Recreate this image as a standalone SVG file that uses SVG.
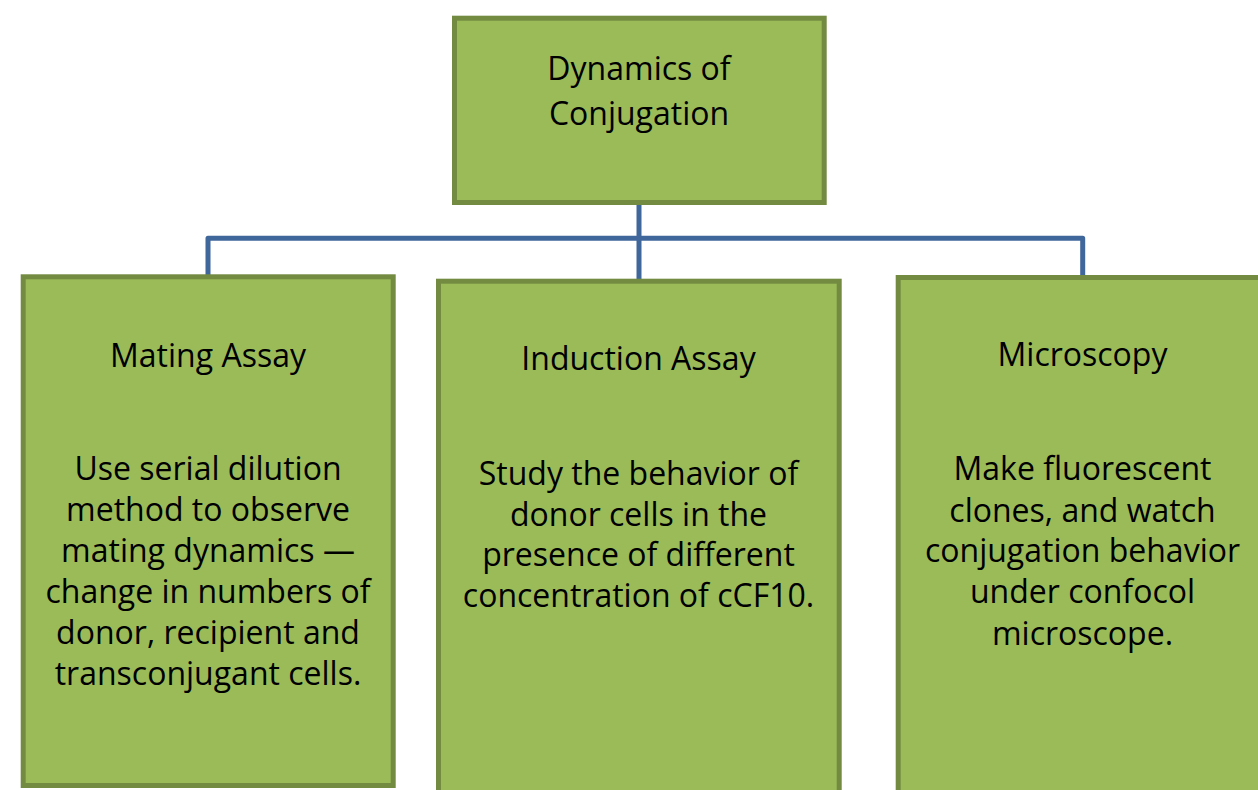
<svg xmlns="http://www.w3.org/2000/svg" width="1258" height="790" viewBox="0 0 1258 790">
  <style>
    .box { fill: #9BBB59; stroke: #738A41; stroke-width: 5; }
    .t { font-family: "Open Sans", "Noto Sans", "Liberation Sans", sans-serif; font-size: 32px; fill: #000; text-anchor: middle; }
    .conn { fill: none; stroke: #40679C; stroke-width: 5; stroke-linejoin: round; }
  </style>
  <rect width="1258" height="790" fill="#FFFFFF"/>
  <g id="connectors">
    <path class="conn" d="M208,275 V238.3 H1082.7 V276"/>
    <path class="conn" d="M639,204 V280"/>
  </g>
  <g id="node-root">
    <rect class="box" x="454.5" y="18.2" width="369.7" height="184.3"/>
    <text class="t" x="639" y="80">Dynamics of</text>
    <text class="t" x="639" y="125">Conjugation</text>
  </g>
  <g id="node-mating">
    <rect class="box" x="23.2" y="276.8" width="370" height="508.7"/>
    <text class="t" x="208" y="366.7">Mating Assay</text>
    <text class="t" x="208" y="480">Use serial dilution</text>
    <text class="t" x="208" y="521">method to observe</text>
    <text class="t" x="208" y="562">mating dynamics —</text>
    <text class="t" x="208" y="603">change in numbers of</text>
    <text class="t" x="208" y="644">donor, recipient and</text>
    <text class="t" x="208" y="685">transconjugant cells.</text>
  </g>
  <g id="node-induction">
    <rect class="box" x="438.5" y="281.2" width="400.7" height="520"/>
    <text class="t" x="638.5" y="370">Induction Assay</text>
    <text class="t" x="638.5" y="485">Study the behavior of</text>
    <text class="t" x="638.5" y="526">donor cells in the</text>
    <text class="t" x="638.5" y="566">presence of different</text>
    <text class="t" x="638.5" y="607">concentration of cCF10.</text>
  </g>
  <g id="node-microscopy">
    <rect class="box" x="898.2" y="277.5" width="400" height="520"/>
    <text class="t" x="1082.5" y="366">Microscopy</text>
    <text class="t" x="1082.5" y="480">Make fluorescent</text>
    <text class="t" x="1082.5" y="521.5">clones, and watch</text>
    <text class="t" x="1082.5" y="562">conjugation behavior</text>
    <text class="t" x="1082.5" y="603">under confocol</text>
    <text class="t" x="1082.5" y="645">microscope.</text>
  </g>
</svg>
